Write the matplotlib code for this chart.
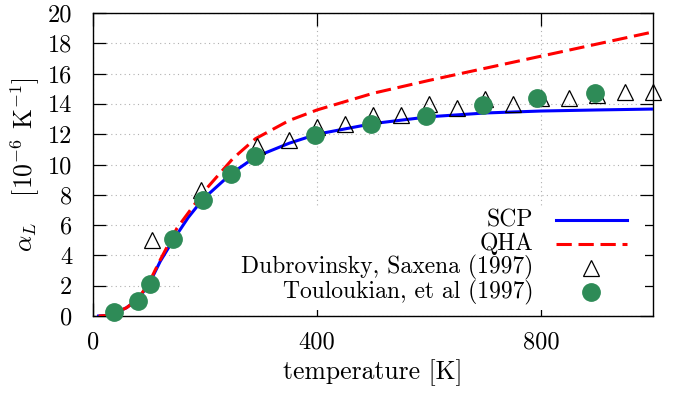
import matplotlib
matplotlib.use('Agg')
import matplotlib.pyplot as plt
from matplotlib.lines import Line2D
from matplotlib.patches import Rectangle

plt.rcParams['font.family'] = 'cmr10'
plt.rcParams['mathtext.fontset'] = 'cm'
plt.rcParams['axes.unicode_minus'] = False

# SCP (blue solid)
T_scp = [10, 30, 40, 60, 80, 100, 120, 143, 170, 196, 247, 290, 350, 400, 500, 600, 700, 800, 900, 1000]
a_scp = [0, 0.05, 0.2, 0.55, 1.1, 2.1, 3.6, 5.0, 6.5, 7.7, 9.4, 10.5, 11.4, 12.0, 12.7, 13.15, 13.4, 13.53, 13.6, 13.66]

# QHA (red dashed)
T_qha = [10, 30, 40, 60, 80, 100, 120, 150, 200, 250, 290, 300, 350, 400, 500, 600, 700, 800, 900, 1000]
a_qha = [0, 0.05, 0.2, 0.55, 1.1, 2.2, 3.7, 5.8, 8.3, 10.4, 11.7, 11.9, 12.9, 13.6, 14.7, 15.55, 16.35, 17.15, 17.95, 18.75]

# Dubrovinsky, Saxena (1997) triangles
T_dub = [105, 193, 293, 350, 400, 450, 500, 550, 600, 650, 700, 750, 800, 850, 900, 950, 1000]
a_dub = [5.0, 8.3, 11.2, 11.6, 12.5, 12.7, 13.3, 13.3, 14.0, 13.7, 14.3, 14.0, 14.4, 14.4, 14.6, 14.8, 14.8]

# Touloukian, et al (1997) circles
T_tou = [38, 80, 101, 143, 196, 247, 290, 396, 497, 595, 696, 792, 897]
a_tou = [0.28, 1.0, 2.1, 5.08, 7.66, 9.37, 10.56, 11.95, 12.67, 13.2, 13.93, 14.4, 14.74]

labels = ['SCP', 'QHA', 'Dubrovinsky, Saxena (1997)', 'Touloukian, et al (1997)']
xticks = [0, 400, 800]
yticks = list(range(0, 21, 2))

FS = 18.5
TFS = 17.5
LFS = 17

fig = plt.figure(figsize=(6.85, 3.94), dpi=100)
ax = fig.add_axes([93/685, 1-316/394, 560/685, 303/394])

ax.set_xlim(0, 1000)
ax.set_ylim(0, 20)
ax.set_xticks(xticks)
ax.set_yticks(yticks)
ax.tick_params(direction='in', length=9.4, width=0.9, top=True, right=True,
               labelsize=TFS, pad=11)
ax.tick_params(axis='y', pad=15)
for s in ax.spines.values():
    s.set_linewidth(1.0)
ax.grid(True, linestyle=(0, (1, 3)), color='#b0b0b0', linewidth=0.8, zorder=0)
ax.set_axisbelow(True)

# opaque key background
ax.add_patch(Rectangle((0.155, 0.02), 0.83, 0.34, transform=ax.transAxes,
                       facecolor='white', edgecolor='none', zorder=1))

blue, red, green = '#0000ff', '#ff0000', '#2e8b57'
ax.plot(T_scp, a_scp, color=blue, lw=2.2, zorder=3)
ax.plot(T_qha, a_qha, color=red, lw=2.2, linestyle=(0, (5, 2.2)), zorder=3)
ax.plot(T_dub, a_dub, linestyle='none', marker='^', ms=11, mfc='none', mec='black',
        mew=0.9, zorder=4, clip_on=False)
ax.plot(T_tou, a_tou, linestyle='none', marker='o', ms=12.5, mfc=green, mec=green,
        zorder=5, clip_on=False)

ax.set_xlabel('temperature [K]', fontsize=FS, labelpad=4)
ax.set_ylabel(r'$\alpha_L$   [$10^{-6}$ K$^{-1}$]', fontsize=FS, labelpad=4)

# key
rows = [0.316, 0.238, 0.160, 0.079]
tx = 0.786
for lab, yy in zip(labels, rows):
    ax.text(tx, yy, lab, transform=ax.transAxes, ha='right', va='center', fontsize=LFS, zorder=6)
ax.add_line(Line2D([0.827, 0.954], [rows[0]]*2, transform=ax.transAxes, color=blue, lw=2.2, zorder=6))
ax.add_line(Line2D([0.827, 0.954], [rows[1]]*2, transform=ax.transAxes, color=red, lw=2.2,
                   linestyle=(0, (5, 2.2)), zorder=6))
ax.add_line(Line2D([0.889], [rows[2]], transform=ax.transAxes, marker='^', ms=11, mfc='none',
                   mec='black', mew=0.9, linestyle='none', zorder=6))
ax.add_line(Line2D([0.889], [rows[3]], transform=ax.transAxes, marker='o', ms=12.5, mfc=green,
                   mec=green, linestyle='none', zorder=6))

fig.savefig('out.png', dpi=100)
